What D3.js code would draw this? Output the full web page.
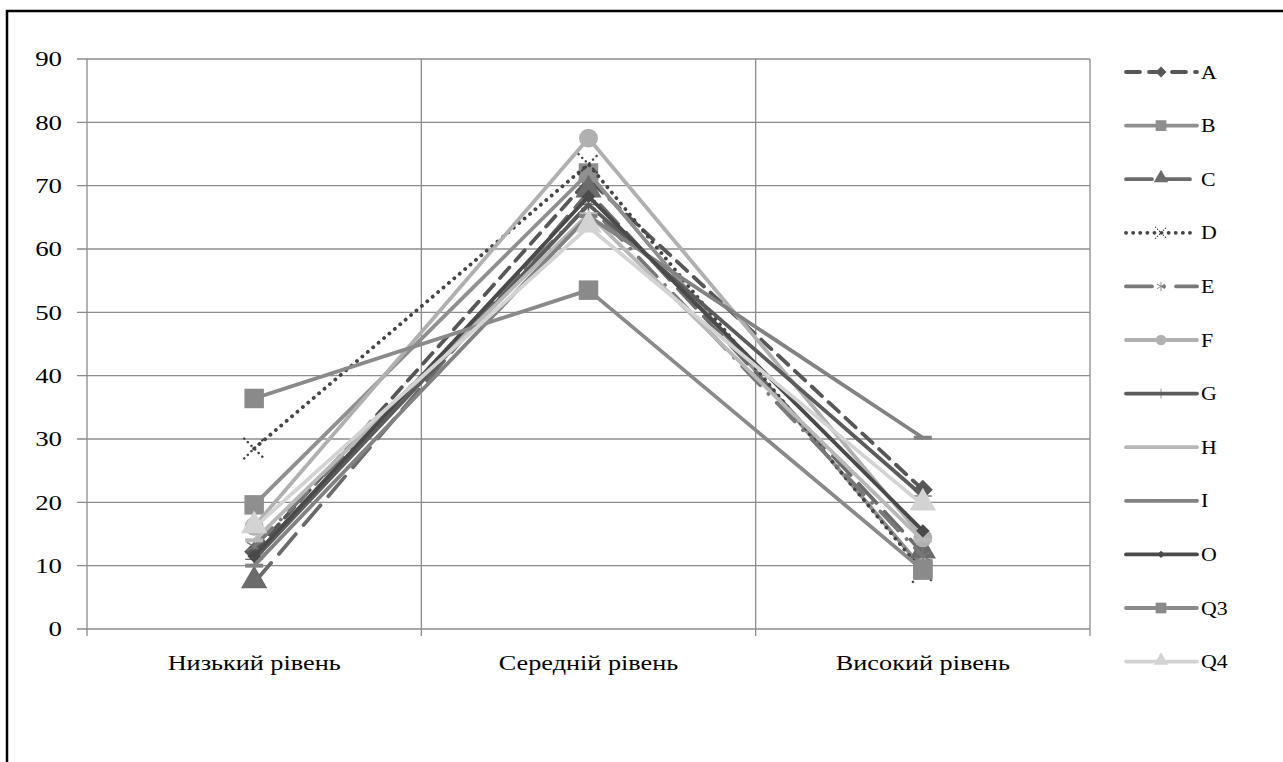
<!DOCTYPE html>
<html>
<head>
<meta charset="utf-8">
<script src="https://cdn.jsdelivr.net/npm/d3@7"></script>
<style>
  body { margin: 0; background: #fff; }
  svg { display: block; }
</style>
</head>
<body>
<div id="chart"></div>
<script>
// --- data ---
const categories = ['Низький рівень', 'Середній рівень', 'Високий рівень'];
const yTicks = [0, 10, 20, 30, 40, 50, 60, 70, 80, 90];

const seriesA  = [12.2, 71.0, 22.0];
const seriesB  = [19.6, 72.0, 9.5];
const seriesC  = [7.3, 69.0, 12.0];
const seriesD  = [28.5, 73.4, 9.0];
const seriesE  = [13.0, 67.0, 11.5];
const seriesF  = [16.2, 77.5, 14.4];
const seriesG  = [11.0, 67.0, 21.0];
const seriesH  = [14.0, 65.5, 14.0];
const seriesI  = [10.0, 65.2, 30.2];
const seriesO  = [11.5, 68.3, 15.5];
const seriesQ3 = [36.4, 53.5, 9.3];
const seriesQ4 = [16.0, 63.5, 19.6];

const series = [
    { name: 'A',  values: seriesA,  color: '#575757', dash: '14,9',     marker: 'diamond' },
    { name: 'B',  values: seriesB,  color: '#8f8f8f', dash: null,       marker: 'square' },
    { name: 'C',  values: seriesC,  color: '#6b6b6b', dash: '26,12',    marker: 'triangle' },
    { name: 'D',  values: seriesD,  color: '#454545', dash: '0.1,7',    marker: 'x' },
    { name: 'E',  values: seriesE,  color: '#787878', dash: '26,12,0.1,12', marker: 'star' },
    { name: 'F',  values: seriesF,  color: '#b0b0b0', dash: null,       marker: 'circle' },
    { name: 'G',  values: seriesG,  color: '#5c5c5c', dash: null,       marker: 'plus' },
    { name: 'H',  values: seriesH,  color: '#b8b8b8', dash: null,       marker: 'dash' },
    { name: 'I',  values: seriesI,  color: '#828282', dash: null,       marker: 'dash' },
    { name: 'O',  values: seriesO,  color: '#4a4a4a', dash: null,       marker: 'smalldiamond' },
    { name: 'Q3', values: seriesQ3, color: '#8a8a8a', dash: null,       marker: 'square' },
    { name: 'Q4', values: seriesQ4, color: '#d3d3d3', dash: null,       marker: 'triangle' }
];

const W = 1283, H = 762;
const plot = { left: 87, right: 1090, top: 59, bottom: 629 };
const FONT = "'Liberation Serif', 'Times New Roman', serif";

const svg = d3.select('#chart').append('svg').attr('width', W).attr('height', H);

// outer frame (cut off on the right and bottom in the original)
svg.append('rect')
    .attr('x', 7).attr('y', 11).attr('width', W).attr('height', H)
    .attr('fill', 'none').attr('stroke', '#000').attr('stroke-width', 2.5);

const x = d3.scalePoint().domain(categories).range([plot.left, plot.right]).padding(0.5);
const y = d3.scaleLinear().domain([0, 90]).range([plot.bottom, plot.top]);
const step = x.step();

const gridColor = '#8c8c8c';

// horizontal grid + left ticks
svg.append('g').selectAll('line')
    .data(yTicks)
    .join('line')
    .attr('x1', plot.left - 10).attr('x2', plot.right)
    .attr('y1', d => y(d)).attr('y2', d => y(d))
    .attr('stroke', gridColor).attr('stroke-width', 1.3);

// vertical grid at category boundaries
const bounds = [0, 1, 2, 3].map(i => plot.left + i * step);
svg.append('g').selectAll('line')
    .data(bounds)
    .join('line')
    .attr('x1', d => d).attr('x2', d => d)
    .attr('y1', plot.top).attr('y2', plot.bottom + 7)
    .attr('stroke', gridColor).attr('stroke-width', 1.3);

// y tick labels (the original text is drawn a bit wide)
svg.append('g').selectAll('text')
    .data(yTicks)
    .join('text')
    .attr('transform', d => `translate(62,${y(d)}) scale(1.28,1)`)
    .attr('dy', '0.35em')
    .attr('text-anchor', 'end')
    .attr('font-family', FONT).attr('font-size', 21)
    .attr('fill', '#000')
    .text(d => d);

// category labels
svg.append('g').selectAll('text')
    .data(categories)
    .join('text')
    .attr('transform', d => `translate(${x(d)},670) scale(1.25,1)`)
    .attr('text-anchor', 'middle')
    .attr('font-family', FONT).attr('font-size', 21)
    .attr('fill', '#000')
    .text(d => d);

// marker drawing
function drawMarker(g, kind, color) {
    const sym = (type, size) => g.append('path').attr('d', d3.symbol().type(type).size(size)());
    switch (kind) {
        case 'square':
            sym(d3.symbolSquare, 380).attr('fill', color);
            break;
        case 'circle':
            sym(d3.symbolCircle, 280).attr('fill', color);
            break;
        case 'triangle':
            sym(d3.symbolTriangle, 300).attr('fill', color).attr('transform', 'translate(0,-2)');
            break;
        case 'diamond':
            sym(d3.symbolSquare, 200).attr('fill', color).attr('transform', 'rotate(45)');
            break;
        case 'smalldiamond':
            sym(d3.symbolSquare, 90).attr('fill', color).attr('transform', 'rotate(45)');
            break;
        case 'x':
            sym(d3.symbolX, 260).attr('fill', 'none').attr('stroke', color)
                .attr('stroke-width', 2.5).attr('stroke-dasharray', '0.1,5').attr('stroke-linecap', 'round');
            break;
        case 'star':
            sym(d3.symbolAsterisk, 200).attr('fill', 'none').attr('stroke', color).attr('stroke-width', 1.5);
            break;
        case 'plus':
            g.append('line').attr('x1', 0).attr('x2', 0).attr('y1', -9).attr('y2', 9)
                .attr('stroke', color).attr('stroke-width', 1.2);
            g.append('line').attr('x1', -9).attr('x2', 9).attr('y1', 0).attr('y2', 0)
                .attr('stroke', color).attr('stroke-width', 1.2);
            break;
        case 'dash':
            g.append('rect').attr('x', -9).attr('y', -2).attr('width', 18).attr('height', 4).attr('fill', color);
            break;
    }
}

const line = d3.line().x((d, i) => x(categories[i])).y(d => y(d));

series.forEach(s => {
    const g = svg.append('g');
    g.append('path')
        .attr('d', line(s.values))
        .attr('fill', 'none')
        .attr('stroke', s.color)
        .attr('stroke-width', 3.8)
        .attr('stroke-linecap', 'round')
        .attr('stroke-linejoin', 'round')
        .attr('stroke-dasharray', s.dash);
    s.values.forEach((v, i) => {
        const m = g.append('g').attr('transform', `translate(${x(categories[i])},${y(v)})`);
        drawMarker(m, s.marker, s.color);
    });
});

// legend
const legendTop = 72, legendGap = 53.6;
const lg = svg.append('g');
series.forEach((s, i) => {
    const row = lg.append('g').attr('transform', `translate(0,${legendTop + i * legendGap})`);
    row.append('line')
        .attr('x1', 1126).attr('x2', 1197).attr('y1', 0).attr('y2', 0)
        .attr('stroke', s.color).attr('stroke-width', 3.8)
        .attr('stroke-linecap', 'round')
        .attr('stroke-dasharray', s.dash);
    const m = row.append('g').attr('transform', 'translate(1161,0) scale(0.55)');
    drawMarker(m, s.marker, s.color);
    row.append('text')
        .attr('transform', 'translate(1201,0) scale(1.15,1)')
        .attr('dy', '0.35em')
        .attr('font-family', FONT).attr('font-size', 19)
        .attr('fill', '#000')
        .text(s.name);
});
</script>
</body>
</html>
